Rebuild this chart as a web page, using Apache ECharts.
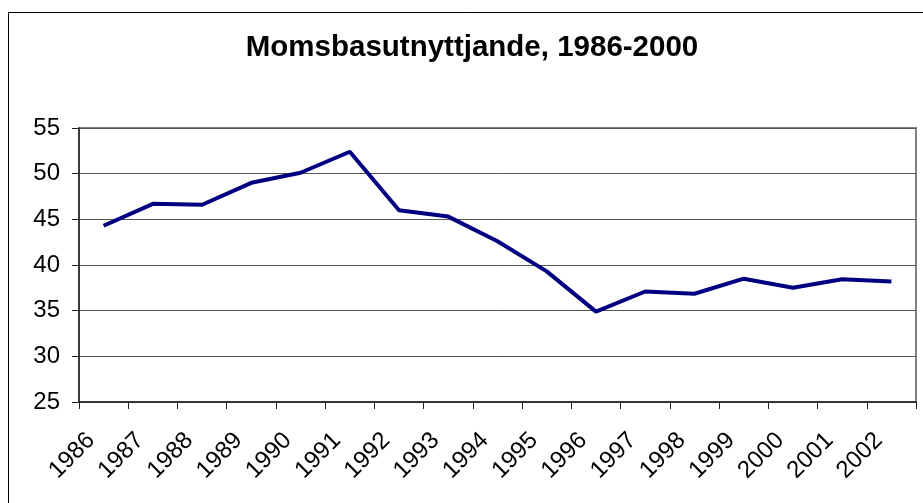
<!DOCTYPE html>
<html>
<head>
<meta charset="utf-8">
<script src="https://cdn.jsdelivr.net/npm/echarts@6/dist/echarts.min.js"></script>
<style>
  html, body { margin: 0; padding: 0; background: #fff; }
  #chart { width: 923px; height: 503px; }
</style>
</head>
<body>
<div id="chart"></div>
<script>
  // 年份 / 数值
  var years = ['1986', '1987', '1988', '1989', '1990', '1991', '1992', '1993', '1994',
               '1995', '1996', '1997', '1998', '1999', '2000', '2001', '2002']
  var momsbas = [44.3, 46.7, 46.6, 49.0, 50.1, 52.4, 46.0, 45.3, 42.6,
                 39.3, 34.9, 37.1, 36.85, 38.5, 37.5, 38.45, 38.2]
  var titleText = 'Momsbasutnyttjande, 1986-2000'

  var myChart = echarts.init(document.getElementById('chart'))

  var option = {
    animation: false,
    backgroundColor: '#fff',
    textStyle: { fontFamily: 'Liberation Sans, Arial, sans-serif' },
    graphic: [
      {
        type: 'rect',
        shape: { x: 8.5, y: 12.5, width: 1000, height: 600 },
        style: { fill: 'none', stroke: '#000', lineWidth: 1 },
        z: -1
      },
      {
        type: 'text',
        x: 472,
        y: 48,
        style: {
          text: titleText,
          fontSize: 29.5,
          fontWeight: 'bold',
          fontFamily: 'Liberation Sans, Arial, sans-serif',
          fill: '#000',
          textAlign: 'center',
          textVerticalAlign: 'middle'
        }
      }
    ],
    grid: {
      left: 79,
      right: 7,
      top: 128,
      bottom: 101,
      show: true,
      borderColor: '#808080',
      borderWidth: 2
    },
    xAxis: {
      type: 'category',
      boundaryGap: true,
      data: years,
      axisLine: { show: true, lineStyle: { color: '#222', width: 1.5 } },
      axisTick: { show: true, length: 7, lineStyle: { color: '#222' } },
      axisLabel: {
        interval: 0,
        rotate: 45,
        margin: 22,
        padding: [0, 18, 0, 0],
        fontSize: 24,
        color: '#000'
      },
      splitLine: { show: false }
    },
    yAxis: {
      type: 'value',
      min: 25,
      max: 55,
      interval: 5,
      axisLine: { show: true, lineStyle: { color: '#222', width: 1.5 } },
      axisTick: { show: true, length: 7, lineStyle: { color: '#222' } },
      axisLabel: { margin: 19, fontSize: 24, color: '#000' },
      splitLine: { show: true, lineStyle: { color: '#555', width: 1 } }
    },
    series: [
      {
        name: titleText,
        type: 'line',
        data: momsbas,
        symbol: 'none',
        lineStyle: { color: '#000080', width: 4 }
      }
    ]
  }

  myChart.setOption(option)
</script>
</body>
</html>
